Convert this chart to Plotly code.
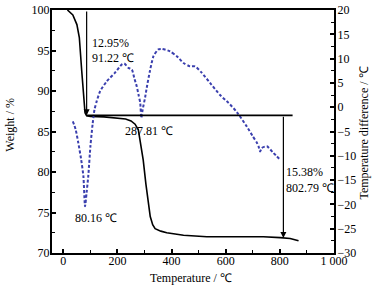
import plotly.graph_objects as go

# TG curve (weight %, left axis)
tg_temp = [15, 35, 50, 59, 68, 74, 80, 86, 100, 150, 200, 230, 250, 265, 277, 285, 295, 305,
           314, 321, 330, 339, 360, 382, 444, 530, 616, 653, 690, 739, 801, 838, 869]
tg_weight = [100, 99.4, 98.2, 96.6, 92.4, 89.1, 87.3, 86.95, 86.85, 86.8, 86.7, 86.55, 86.3,
             85.9, 85.2, 83.6, 81.5, 78.5, 76.0, 74.5, 73.5, 73.0, 72.7, 72.5, 72.2, 72.0,
             72.0, 72.0, 72.05, 72.0, 71.9, 71.8, 71.5]

# DTA curve (temperature difference, right axis)
dta_temp = [35, 45, 55, 65, 74, 80, 86, 92, 100, 108, 115, 123, 136, 160, 191, 216, 225, 240,
            253, 262, 271, 278, 284, 288, 293, 302, 308, 320, 333, 351, 364, 394, 419, 444,
            468, 487, 511, 542, 579, 610, 641, 678, 700, 715, 721, 727, 733, 752, 776, 801]
dta_diff = [-2.9, -4.5, -7.3, -10.5, -14.2, -20.4, -17.5, -14.2, -8.0, -3.5, -0.5, 1.2, 3.3,
            5.3, 7.1, 8.8, 9.0, 8.1, 7.75, 6.0, 4.3, 2.5, 0.9, -2.2, -0.5, 2.0, 4.0, 7.5,
            10.5, 11.9, 12.0, 11.5, 10.5, 9.1, 8.4, 8.4, 7.1, 5.0, 2.5, 0.9, -1.0, -4.0,
            -6.0, -7.3, -8.0, -9.1, -8.4, -8.05, -9.4, -10.8]

# Tick labels
x_tickvals = [0, 200, 400, 600, 800, 1000]
x_ticktext = ["0", "200", "400", "600", "800", "1 000"]

# Step annotation geometry (data units)
step1_T = 86
step2_T = 813
plateau_W = 87.0
end_W = 71.85
hline_end_T = 847

labels = [
    ("12.95%", 98, 95.98),
    ("91.22 \u2103", 98, 94.12),
    ("287.81 \u2103", 220, 85.09),
    ("80.16 \u2103", 36, 74.38),
    ("15.38%", 814, 80.0),
    ("802.79 \u2103", 814, 78.03),
]

FONT = "Times New Roman, Liberation Serif, serif"
blue = "#3a3fae"

fig = go.Figure()
fig.add_trace(go.Scatter(x=tg_temp, y=tg_weight, mode="lines",
                         line=dict(color="black", width=1.6), yaxis="y"))
fig.add_trace(go.Scatter(x=dta_temp, y=dta_diff, mode="lines",
                         line=dict(color=blue, width=2, dash="3px,2px", shape="spline", smoothing=0.6),
                         yaxis="y2"))

# plateau horizontal line
fig.add_shape(type="line", xref="x", yref="y", x0=step1_T, x1=hline_end_T,
              y0=plateau_W, y1=plateau_W, line=dict(color="black", width=1.8))

# arrows
fig.add_annotation(x=step1_T, y=plateau_W, ax=step1_T, ay=100, xref="x", yref="y",
                   axref="x", ayref="y", showarrow=True, arrowhead=2, arrowsize=1,
                   arrowwidth=1.2, arrowcolor="black", text="")
fig.add_annotation(x=step2_T, y=end_W, ax=step2_T, ay=plateau_W, xref="x", yref="y",
                   axref="x", ayref="y", showarrow=True, arrowhead=2, arrowsize=1,
                   arrowwidth=1.2, arrowcolor="black", text="")

for txt, tx, ty in labels:
    fig.add_annotation(x=tx, y=ty, xref="x", yref="y", text=txt, showarrow=False,
                       xanchor="left", yanchor="middle",
                       font=dict(family=FONT, size=12, color="black"))

# axis titles
title_font = dict(family=FONT, size=12, color="black")
fig.add_annotation(x=-0.149, y=0.528, xref="paper", yref="paper", text="Weight / %",
                   textangle=-90, showarrow=False, xanchor="center", yanchor="middle",
                   font=title_font)
fig.add_annotation(x=1.106, y=0.495, xref="paper", yref="paper",
                   text="Temperature difference / \u2103", textangle=-90, showarrow=False,
                   xanchor="center", yanchor="middle", font=title_font)
fig.add_annotation(x=0.493, y=-0.103, xref="paper", yref="paper", text="Temperature / \u2103",
                   showarrow=False, xanchor="center", yanchor="middle", font=title_font)

axis_common = dict(showgrid=False, zeroline=False, showline=True, linecolor="black",
                   linewidth=2, ticks="inside", ticklen=4, tickwidth=1.5, tickcolor="black",
                   automargin=False,
                   tickfont=dict(family=FONT, size=12, color="black"))

fig.update_layout(
    width=380, height=290,
    margin=dict(l=52, r=46, t=10, b=37),
    paper_bgcolor="white", plot_bgcolor="white",
    showlegend=False,
    font=dict(family=FONT, size=12, color="black"),
    xaxis=dict(range=[-42, 1000], tickmode="array", tickvals=x_tickvals, ticktext=x_ticktext,
               mirror=True, ticklabelstandoff=-4,
               minor=dict(tickvals=[100, 300, 500, 700, 900], ticks="inside", ticklen=3,
                          tickwidth=1.2, tickcolor="black"),
               **axis_common),
    yaxis=dict(range=[70, 100], dtick=5, tick0=70, ticklabelstandoff=-2,
               minor=dict(dtick=2.5, tick0=70, ticks="inside", ticklen=3, tickwidth=1.2,
                          tickcolor="black"),
               **axis_common),
    yaxis2=dict(range=[-30, 20], dtick=5, tick0=-30, overlaying="y", side="right", anchor="x",
                ticklabelstandoff=-1,
                minor=dict(dtick=2.5, tick0=-30, ticks="inside", ticklen=3, tickwidth=1.2,
                           tickcolor="black"),
                **axis_common),
)

fig.write_html("out.html", config={"displayModeBar": False},
               post_script="document.body.style.margin='0';document.body.style.padding='0';")
